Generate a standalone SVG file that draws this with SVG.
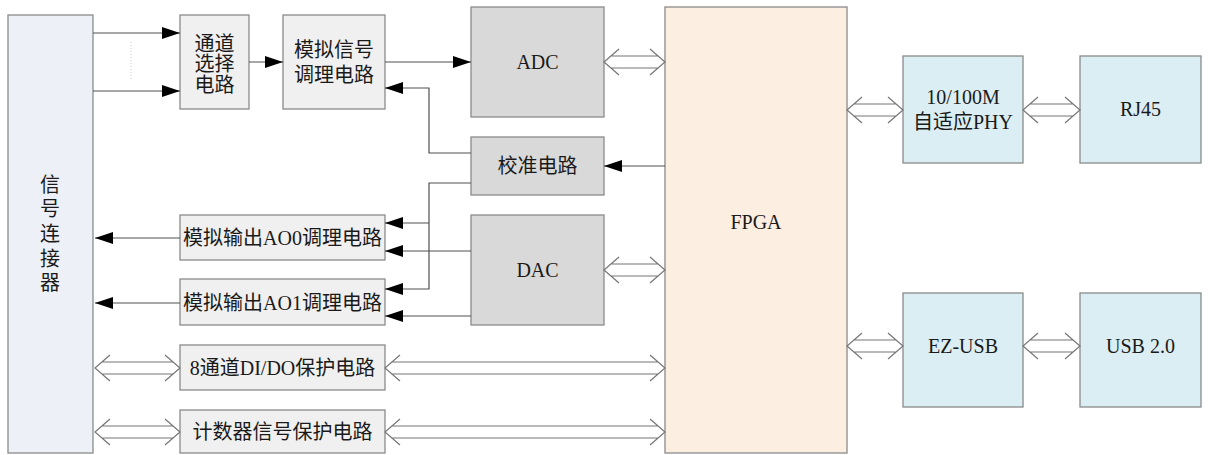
<svg xmlns="http://www.w3.org/2000/svg" width="1213" height="455" viewBox="0 0 1213 455">
<style>
.box{stroke:#8a8a8a;stroke-width:1.3}
.lt{fill:#f0f0f0}.gr{fill:#d9d9d9}.lav{fill:#eef0f7}.pea{fill:#fdeee2}.blu{fill:#dbeef4}
text{font-family:"Liberation Serif","Noto Sans CJK SC",serif;font-size:20px;fill:#1a1a1a;text-anchor:middle}
.w{fill:none;stroke:#505050;stroke-width:1.2}
.d{fill:none;stroke:#777;stroke-width:1.2}
</style>
<defs>
<marker id="ah" markerUnits="userSpaceOnUse" markerWidth="19" markerHeight="13" refX="18" refY="6" orient="auto">
<path d="M0,0 L18,6 L0,12 z" fill="#000"/>
</marker>
</defs>
<rect width="1213" height="455" fill="#fff"/>
<g id="conn"><rect class="box lav" x="8" y="15" width="85" height="438"/>
<text font-size="19"><tspan x="50" y="192">信</tspan><tspan x="50" y="216">号</tspan><tspan x="50" y="241">连</tspan><tspan x="50" y="266">接</tspan><tspan x="50" y="290">器</tspan></text></g>
<g id="chsel"><rect class="box lt" x="180" y="15" width="69" height="94"/>
<text><tspan x="214.5" y="51">通道</tspan><tspan x="214.5" y="71">选择</tspan><tspan x="214.5" y="92">电路</tspan></text></g>
<g id="anacond"><rect class="box lt" x="283" y="15" width="102" height="94"/>
<text><tspan x="334" y="57">模拟信号</tspan><tspan x="334" y="82">调理电路</tspan></text></g>
<g id="adc"><rect class="box gr" x="471" y="7" width="133" height="110"/><text x="537.5" y="69">ADC</text></g>
<g id="cal"><rect class="box gr" x="471" y="137" width="133" height="58"/><text x="537.5" y="173">校准电路</text></g>
<g id="dac"><rect class="box gr" x="471" y="215" width="133" height="110"/><text x="537.5" y="277">DAC</text></g>
<g id="ao0"><rect class="box lt" x="180" y="215" width="205" height="45"/><text x="282.5" y="245">模拟输出AO0调理电路</text></g>
<g id="ao1"><rect class="box lt" x="180" y="279" width="205" height="46"/><text x="282.5" y="310">模拟输出AO1调理电路</text></g>
<g id="dido"><rect class="box lt" x="180" y="345" width="205" height="45"/><text x="282.5" y="375">8通道DI/DO保护电路</text></g>
<g id="cnt"><rect class="box lt" x="180" y="410" width="205" height="43"/><text x="282.5" y="439">计数器信号保护电路</text></g>
<g id="fpga"><rect class="box pea" x="665" y="7" width="182" height="446"/><text x="756" y="229">FPGA</text></g>
<g id="phy"><rect class="box blu" x="903" y="56" width="120" height="107"/>
<text><tspan x="963" y="104">10/100M</tspan><tspan x="963" y="129">自适应PHY</tspan></text></g>
<g id="rj45"><rect class="box blu" x="1080" y="56" width="121" height="107"/><text x="1140.5" y="116">RJ45</text></g>
<g id="ezusb"><rect class="box blu" x="903" y="293" width="120" height="114"/><text x="963" y="353">EZ-USB</text></g>
<g id="usb"><rect class="box blu" x="1080" y="293" width="121" height="114"/><text x="1140.5" y="353">USB 2.0</text></g>
<g id="connectors">
<path class="w" marker-end="url(#ah)" d="M93,33 H180"/>
<path class="w" marker-end="url(#ah)" d="M93,91 H180"/>
<path d="M131,42 V80" stroke="#cfcfcf" stroke-width="1" stroke-dasharray="1,2" fill="none"/>
<path class="w" marker-end="url(#ah)" d="M249,62 H283"/>
<path class="w" marker-end="url(#ah)" d="M385,62 H471"/>
<path class="w" marker-end="url(#ah)" d="M471,153 H429 V88 H385"/>
<path class="w" marker-end="url(#ah)" d="M665,166 H604"/>
<path class="w" marker-end="url(#ah)" d="M471,183 H429 V289 H385"/>
<path class="w" marker-end="url(#ah)" d="M429,223 H385"/>
<path class="w" marker-end="url(#ah)" d="M471,251 H385"/>
<path class="w" marker-end="url(#ah)" d="M471,316 H385"/>
<path class="w" marker-end="url(#ah)" d="M180,238 H95"/>
<path class="w" marker-end="url(#ah)" d="M180,303 H95"/>
<path class="d" d="M619,49 L604,62 L619,75 M650,49 L665,62 L650,75 M611,56 H658 M611,68 H658"/>
<path class="d" d="M619,257 L604,270 L619,283 M650,257 L665,270 L650,283 M611,264 H658 M611,276 H658"/>
<path class="d" d="M110,355 L95,368 L110,381 M165,355 L180,368 L165,381 M102,362 H173 M102,374 H173"/>
<path class="d" d="M110,419 L95,432 L110,445 M165,419 L180,432 L165,445 M102,426 H173 M102,438 H173"/>
<path class="d" d="M400,355 L385,368 L400,381 M650,355 L665,368 L650,381 M392,362 H658 M392,374 H658"/>
<path class="d" d="M400,419 L385,432 L400,445 M650,419 L665,432 L650,445 M392,426 H658 M392,438 H658"/>
<path class="d" d="M862,97 L847,110 L862,123 M888,97 L903,110 L888,123 M854,104 H896 M854,116 H896"/>
<path class="d" d="M1038,97 L1023,110 L1038,123 M1065,97 L1080,110 L1065,123 M1030,104 H1073 M1030,116 H1073"/>
<path class="d" d="M862,333 L847,346 L862,359 M888,333 L903,346 L888,359 M854,340 H896 M854,352 H896"/>
<path class="d" d="M1038,333 L1023,346 L1038,359 M1065,333 L1080,346 L1065,359 M1030,340 H1073 M1030,352 H1073"/>
</g>
</svg>
